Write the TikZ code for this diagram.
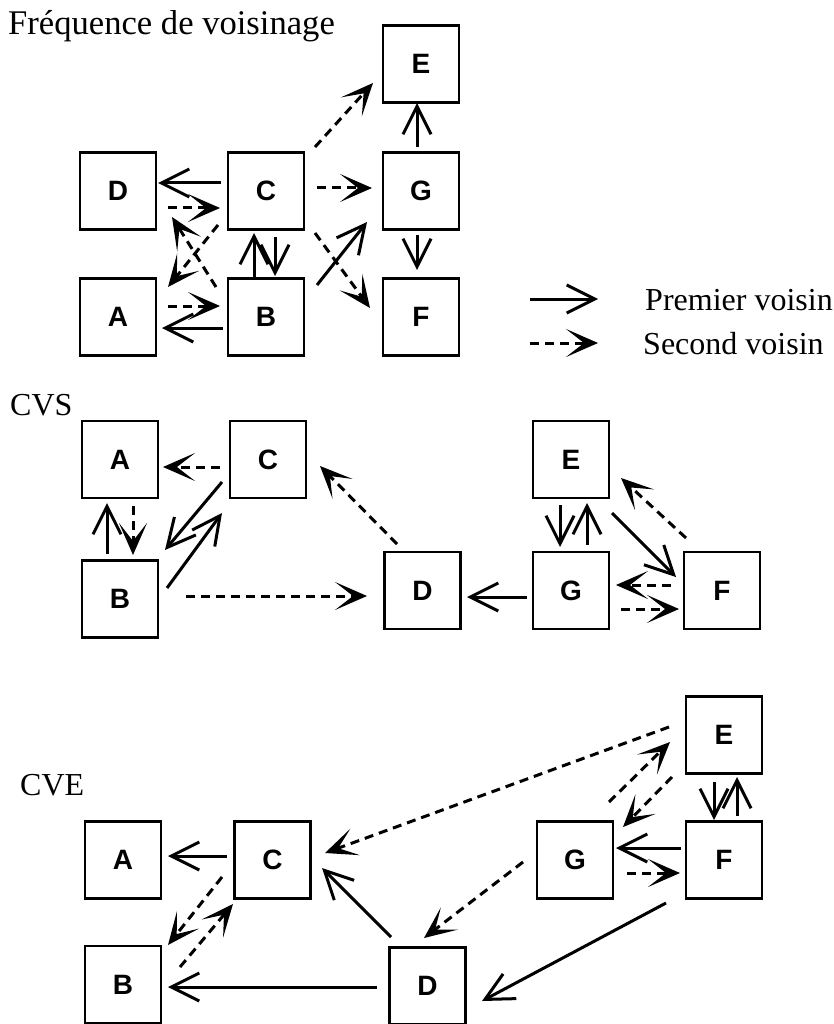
\documentclass[tikz,border=0pt]{standalone}
\usepackage{fontspec}
\setmainfont{Liberation Serif}
\newfontfamily\boxfont{Liberation Sans}
\usetikzlibrary{arrows.meta}

\tikzset{
  boite/.style={draw, line width=2.8pt, minimum width=76pt, minimum height=77pt,
    inner sep=0pt, font={\boxfont\bfseries\fontsize{28pt}{28pt}\selectfont}},
  prem/.style={line width=3pt, -{Straight Barb[length=28pt,width=28pt,line width=3pt]}},
  sec/.style={line width=3pt, dash pattern=on 9pt off 6pt,
    -{Stealth[length=32pt,width=28pt,inset=18pt]}},
  titre/.style={anchor=base west, inner sep=0pt, font={\fontsize{32pt}{32pt}\selectfont}},
}

\begin{document}
\begin{tikzpicture}[x=1pt, y=-1pt]

% page frame (pixel units, y downwards)
\useasboundingbox (0,0) rectangle (834,1024);

% ---------------- Frequence de voisinage ----------------
\node[titre, font={\fontsize{34.6pt}{34.6pt}\selectfont}] (t1) at (8,35) {Fréquence de voisinage};

\node[boite] (fD) at (118,191) {D};
\node[boite] (fC) at (266,191) {C};
\node[boite] (fE) at (421,64) {E};
\node[boite] (fG) at (421,191) {G};
\node[boite] (fA) at (118,317) {A};
\node[boite] (fB) at (266,317) {B};
\node[boite] (fF) at (421,317) {F};

\draw[prem] ([shift={(-45,-8)}]fC.center) -- ([shift={(40,-8)}]fD.center);
\draw[sec]  ([shift={(50,17)}]fD.center) -- ([shift={(-46,17)}]fC.center);
\draw[sec]  ([shift={(-50,-30)}]fB.center) -- ([shift={(54,26)}]fD.center);
\draw[sec]  ([shift={(-48,34)}]fC.center) -- ([shift={(50,-30)}]fA.center);
\draw[sec]  ([shift={(50,-11)}]fA.center) -- ([shift={(-46,-11)}]fB.center);
\draw[prem] ([shift={(-43,11)}]fB.center) -- ([shift={(44,11)}]fA.center);
\draw[prem] ([shift={(-12,-40)}]fB.center) -- ([shift={(-12,42)}]fC.center);
\draw[prem] ([shift={(9,46)}]fC.center) -- ([shift={(9,-41)}]fB.center);
\draw[sec]  ([shift={(51,-3)}]fC.center) -- ([shift={(-49,-3)}]fG.center);
\draw[sec]  ([shift={(49,-44)}]fC.center) -- ([shift={(-48,19)}]fE.center);
\draw[sec]  ([shift={(49,42)}]fC.center) -- ([shift={(-51,-9)}]fF.center);
\draw[prem] ([shift={(51,-32)}]fB.center) -- ([shift={(-54,31)}]fG.center);
\draw[prem] ([shift={(-4,-44)}]fG.center) -- ([shift={(-4,39)}]fE.center);
\draw[prem] ([shift={(-4,44)}]fG.center) -- ([shift={(-4,-47)}]fF.center);

% legend
\coordinate (l1a) at (530,299);
\coordinate (l1b) at (598,299);
\coordinate (l2a) at (530,343);
\coordinate (l2b) at (598,343);
\draw[prem] (l1a) -- (l1b);
\draw[sec]  (l2a) -- (l2b);
\node[titre] (leg1) at (645,310) {Premier voisin};
\node[titre] (leg2) at (643,354) {Second voisin};

% ---------------- CVS ----------------
\node[titre] (t2) at (10,415) {CVS};

\node[boite] (sA) at (120,459.5) {A};
\node[boite] (sC) at (268,459.5) {C};
\node[boite] (sB) at (120,599) {B};
\node[boite] (sD) at (422.5,590.5) {D};
\node[boite] (sE) at (571,459.5) {E};
\node[boite] (sG) at (571,590.5) {G};
\node[boite] (sF) at (722,590.5) {F};

\draw[sec]  ([shift={(-48,7.5)}]sC.center) -- ([shift={(43,7.5)}]sA.center);
\draw[prem] ([shift={(-46,22.5)}]sC.center) -- ([shift={(45,-49)}]sB.center);
\draw[prem] ([shift={(47,-11)}]sB.center) -- ([shift={(-46,53.5)}]sC.center);
\draw[prem] ([shift={(-13,-45)}]sB.center) -- ([shift={(-13,43.5)}]sA.center);
\draw[sec]  ([shift={(13,46.5)}]sA.center) -- ([shift={(13,-44)}]sB.center);
\draw[sec]  ([shift={(66,-3)}]sB.center) -- ([shift={(-55.5,5.5)}]sD.center);
\draw[sec]  ([shift={(-25.5,-46.5)}]sD.center) -- ([shift={(52,6.5)}]sC.center);
\draw[prem] ([shift={(-44,6.5)}]sG.center) -- ([shift={(44.5,6.5)}]sD.center);
\draw[prem] ([shift={(-11,45.5)}]sE.center) -- ([shift={(-11,-43.5)}]sG.center);
\draw[prem] ([shift={(16,-45.5)}]sG.center) -- ([shift={(16,43.5)}]sE.center);
\draw[prem] ([shift={(41,53.5)}]sE.center) -- ([shift={(-46,-13.5)}]sF.center);
\draw[sec]  ([shift={(-36,-52.5)}]sF.center) -- ([shift={(50,18.5)}]sE.center);
\draw[sec]  ([shift={(-51,-5.5)}]sF.center) -- ([shift={(45,-5.5)}]sG.center);
\draw[sec]  ([shift={(50,18.5)}]sG.center) -- ([shift={(-43,18.5)}]sF.center);

% ---------------- CVE ----------------
\node[titre] (t3) at (20,795) {CVE};

\node[boite] (eA) at (123,860) {A};
\node[boite] (eC) at (272.5,860) {C};
\node[boite] (eB) at (123,984.5) {B};
\node[boite] (eD) at (427.5,986) {D};
\node[boite] (eE) at (724,735) {E};
\node[boite] (eG) at (575,860) {G};
\node[boite] (eF) at (724,860) {F};

\draw[prem] ([shift={(-45.5,-4)}]eC.center) -- ([shift={(45,-4)}]eA.center);
\draw[sec]  ([shift={(-50.5,17)}]eC.center) -- ([shift={(45,-39.5)}]eB.center);
\draw[sec]  ([shift={(57,-17.5)}]eB.center) -- ([shift={(-39.5,44)}]eC.center);
\draw[prem] ([shift={(-50.5,1)}]eD.center) -- ([shift={(45,2.5)}]eB.center);
\draw[prem] ([shift={(-36.5,-49)}]eD.center) -- ([shift={(49.5,8)}]eC.center);
\draw[sec]  ([shift={(-55,-8)}]eE.center) -- ([shift={(52.5,-7)}]eC.center);
\draw[sec]  ([shift={(34,-58)}]eG.center) -- ([shift={(-54,7)}]eE.center);
\draw[sec]  ([shift={(-52,42)}]eE.center) -- ([shift={(48,-33)}]eG.center);
\draw[prem] ([shift={(-10,47)}]eE.center) -- ([shift={(-10,-40)}]eF.center);
\draw[prem] ([shift={(13,-44)}]eF.center) -- ([shift={(13,42)}]eE.center);
\draw[prem] ([shift={(-43,-12)}]eF.center) -- ([shift={(41,-12)}]eG.center);
\draw[sec]  ([shift={(52,13)}]eG.center) -- ([shift={(-44,13)}]eF.center);
\draw[sec]  ([shift={(-52,2)}]eG.center) -- ([shift={(-3.5,-48)}]eD.center);
\draw[prem] ([shift={(-58,43)}]eF.center) -- ([shift={(54.5,15)}]eD.center);

\end{tikzpicture}
\end{document}
